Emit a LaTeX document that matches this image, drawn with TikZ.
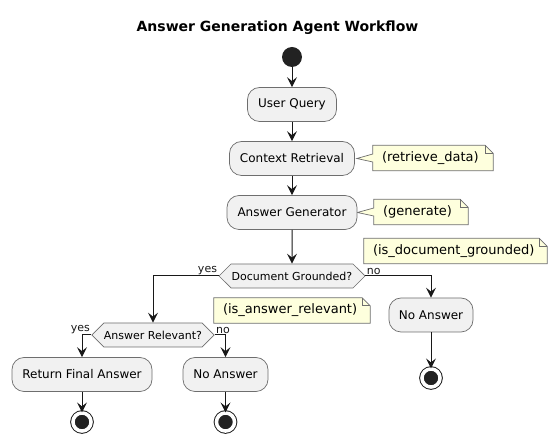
\documentclass[tikz,border=0pt]{standalone}
\usepackage{fontspec}
\setmainfont{DejaVu Sans}
\definecolor{bx}{RGB}{241, 241, 241}
\definecolor{ln}{RGB}{24, 24, 24}
\definecolor{bd}{RGB}{110, 110, 110}
\definecolor{nt}{RGB}{254, 255, 221}
\definecolor{dk}{RGB}{34, 34, 34}
\usetikzlibrary{arrows.meta}
\usetikzlibrary{shapes.symbols}
\usetikzlibrary{backgrounds}

\begin{document}
\begin{tikzpicture}
			[x=1pt, y=-1pt, every node/.style={inner sep=0pt},
			act/.style={rectangle, rounded corners=12pt, minimum height=34pt, fill=bx, draw=bd, line width=0.7pt, font=\fontsize{12}{14}\selectfont},
			dec/.style={signal, signal to=east and west, minimum height=24pt, fill=bx, draw=bd, line width=0.7pt, font=\fontsize{11}{13}\selectfont},
			nte/.style={minimum height=25pt, align=left, font=\fontsize{13}{15}\selectfont},
			ntline/.style={fill=nt, draw=bd, line width=0.7pt},
			lbl/.style={inner sep=1pt, font=\fontsize{11}{13}\selectfont},
			flow/.style={line width=1pt, color=ln, -{Stealth[length=10pt, width=10pt, inset=4pt]}},
			endpt/.style={circle, minimum size=18.1pt, fill=dk, draw=dk, line width=1pt, double=white, double distance=3.5pt}]
			\useasboundingbox (0,0) rectangle (558,443);
			\node (0) at (277.5,28) {\fontsize{14}{16}\selectfont\bfseries Answer Generation Agent Workflow};
			\node (1) [circle, minimum size=20pt, fill=dk] at (292,57) {};
			\node (2) [act, minimum width=89pt] at (292,104.5) {User Query};
			\node (3) [act, minimum width=125pt] at (292,158.5) {Context Retrieval};
			\node (4) [act, minimum width=130pt] at (292,212.5) {Answer Generator};
			\node (5) [nte, minimum width=120pt, text width=102pt] at (433,158) {(retrieve\_data)};
			\node (6) [nte, minimum width=94pt, text width=76pt] at (421,212) {(generate)};
			\node (7) [dec, minimum width=146pt] at (292,276) {Document Grounded?};
			\node (8) [nte, minimum width=183pt, text width=165pt] at (455.5,251) {(is\_document\_grounded)};
			\node (9) [act, minimum width=84pt] at (431,315) {No Answer};
			\node (10) [dec, minimum width=122pt] at (153,335) {Answer Relevant?};
			\node (11) [nte, minimum width=156pt, text width=138pt] at (292,310.5) {(is\_answer\_relevant)};
			\node (12) [act, minimum width=140pt] at (82,374.5) {Return Final Answer};
			\node (13) [act, minimum width=85pt] at (225.5,374.5) {No Answer};
			\node (14) [endpt] at (82,422) {};
			\node (15) [endpt] at (225.5,422) {};
			\node (16) [endpt] at (431,378) {};
			% notes
			\begin{scope}[on background layer]
			\draw [ntline] (5.north west) -- ([xshift=-8pt]5.north east) -- ([yshift=-8pt]5.north east) -- (5.south east) -- (5.south west) -- ([yshift=-4pt]5.west) -- ([xshift=2pt]3.east) -- ([yshift=4pt]5.west) -- cycle;
			\draw [ntline] (6.north west) -- ([xshift=-8pt]6.north east) -- ([yshift=-8pt]6.north east) -- (6.south east) -- (6.south west) -- ([yshift=-4pt]6.west) -- (4.east) -- ([yshift=4pt]6.west) -- cycle;
			\draw [ntline] (8.north west) -- ([xshift=-8pt]8.north east) -- ([yshift=-8pt]8.north east) -- (8.south east) -- (8.south west) -- cycle;
			\draw [ntline] (11.north west) -- ([xshift=-8pt]11.north east) -- ([yshift=-8pt]11.north east) -- (11.south east) -- (11.south west) -- cycle;
			\draw [ntline, fill=none] ([xshift=-8pt]5.north east) -- ++(0,8) -- ([yshift=-8pt]5.north east);
			\draw [ntline, fill=none] ([xshift=-8pt]6.north east) -- ++(0,8) -- ([yshift=-8pt]6.north east);
			\draw [ntline, fill=none] ([xshift=-8pt]8.north east) -- ++(0,8) -- ([yshift=-8pt]8.north east);
			\draw [ntline, fill=none] ([xshift=-8pt]11.north east) -- ++(0,8) -- ([yshift=-8pt]11.north east);
			\end{scope}
			% flow
			\draw [flow] (1) -- (2);
			\draw [flow] (2) -- (3);
			\draw [flow] (3) -- (4);
			\draw [flow] (4) -- (7);
			\draw [flow] (7.west) node [lbl, anchor=south east] {yes} -| (10);
			\draw [flow] (7.east) node [lbl, anchor=south west] {no} -| (9);
			\draw [flow] (10.west) node [lbl, anchor=south east] {yes} -| (12);
			\draw [flow] (10.east) node [lbl, anchor=south west] {no} -| (13);
			\draw [flow] (12) -- (14);
			\draw [flow] (13) -- (15);
			\draw [flow] (9) -- (16);
\end{tikzpicture}
\end{document}
